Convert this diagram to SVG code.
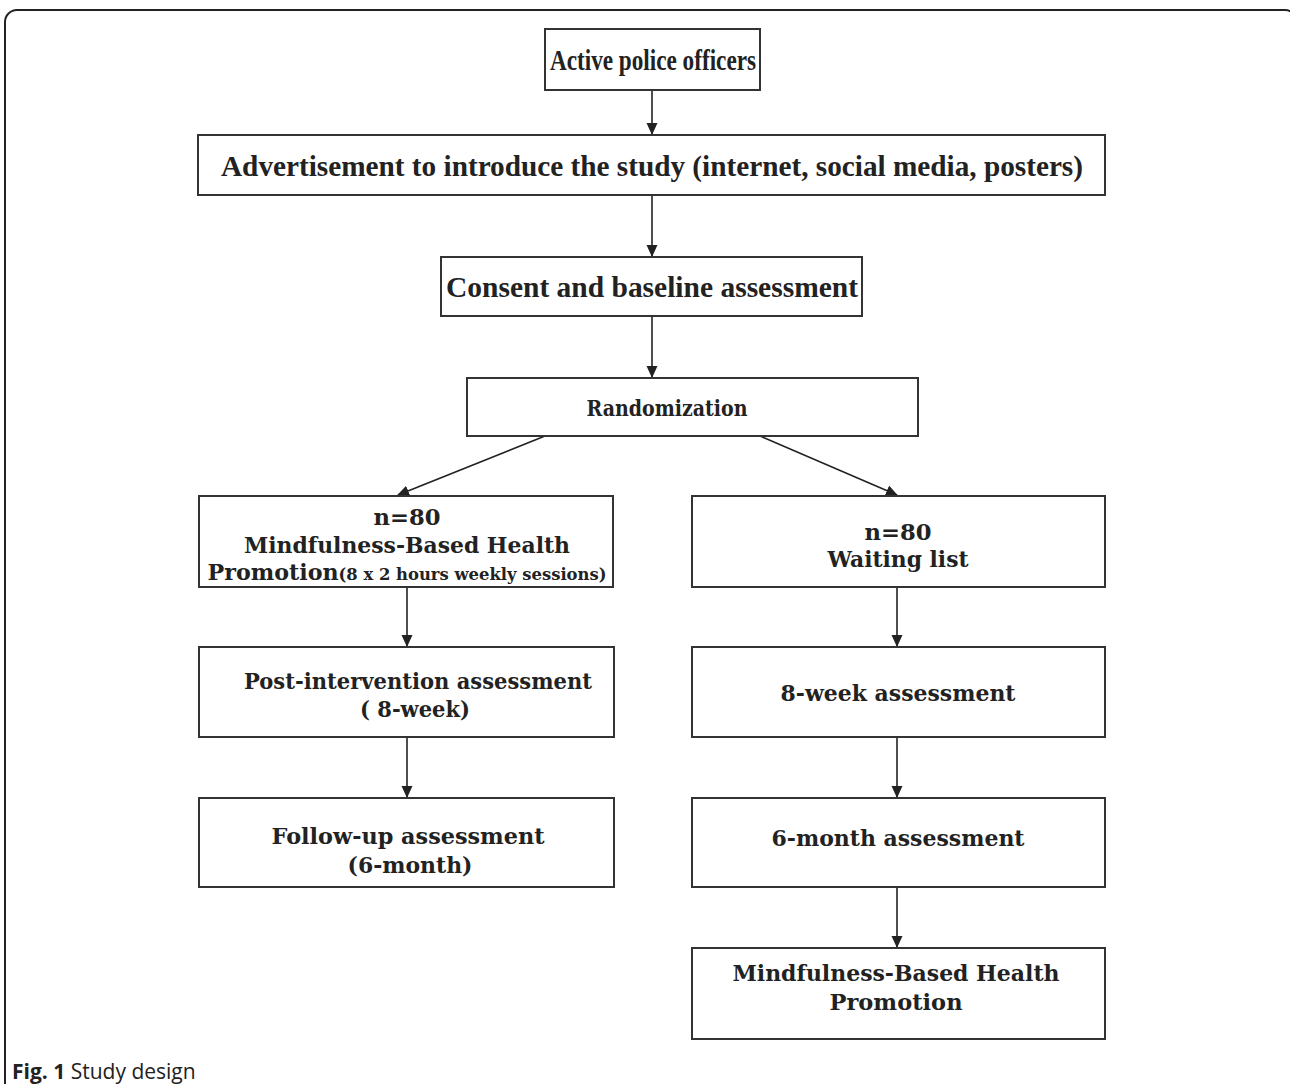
<svg xmlns="http://www.w3.org/2000/svg" width="1290" height="1084" viewBox="0 0 1290 1084">
<defs>
<marker id="ah" markerWidth="12" markerHeight="12" refX="11" refY="6" orient="auto" markerUnits="userSpaceOnUse">
<path d="M0,0.5 L12,6 L0,11.5 Z" fill="#222"/>
</marker>
<style>
.box{fill:#fff;stroke:#333;stroke-width:2}
.t{font-weight:bold;fill:#222;text-anchor:middle}
.c{font-family:"Liberation Serif","DejaVu Serif",serif;font-size:29px}
.g{font-family:"DejaVu Serif","Liberation Serif",serif;font-size:23px}
.e{stroke:#222;stroke-width:1.6;fill:none;marker-end:url(#ah)}
.cap{font-family:"Open Sans","Liberation Sans",sans-serif;font-size:21px;fill:#222}
</style>
</defs>
<rect width="1290" height="1084" fill="#fff"/>
<rect x="5" y="10" width="1292" height="1110" rx="12" fill="none" stroke="#222" stroke-width="2"/>
<g id="connectors">
<line class="e" x1="652" y1="90" x2="652" y2="134"/>
<line class="e" x1="652" y1="195" x2="652" y2="256"/>
<line class="e" x1="652" y1="316" x2="652" y2="377"/>
<line class="e" x1="545" y1="436" x2="398" y2="495"/>
<line class="e" x1="760" y1="436" x2="897" y2="495"/>
<line class="e" x1="407" y1="587" x2="407" y2="646"/>
<line class="e" x1="897" y1="587" x2="897" y2="646"/>
<line class="e" x1="407" y1="737" x2="407" y2="797"/>
<line class="e" x1="897" y1="737" x2="897" y2="797"/>
<line class="e" x1="897" y1="887" x2="897" y2="947"/>
</g>
<g id="n1"><rect class="box" x="545" y="29" width="215" height="61"/>
<text class="t c" x="653" y="70" textLength="206" lengthAdjust="spacingAndGlyphs">Active police officers</text></g>
<g id="n2"><rect class="box" x="198" y="135" width="907" height="60"/>
<text class="t c" x="652" y="176" textLength="862" lengthAdjust="spacingAndGlyphs">Advertisement to introduce the study (internet, social media, posters)</text></g>
<g id="n3"><rect class="box" x="441" y="257" width="421" height="59"/>
<text class="t c" x="652" y="297" textLength="412" lengthAdjust="spacingAndGlyphs">Consent and baseline assessment</text></g>
<g id="n4"><rect class="box" x="467" y="378" width="451" height="58"/>
<text class="t g" x="667" y="416" textLength="161" lengthAdjust="spacingAndGlyphs">Randomization</text></g>
<g id="n5"><rect class="box" x="199" y="496" width="414" height="91"/>
<text class="t g" x="407" y="525" textLength="67" lengthAdjust="spacingAndGlyphs">n=80</text>
<text class="t g" x="407" y="553" textLength="326" lengthAdjust="spacingAndGlyphs">Mindfulness-Based Health</text>
<text class="t g" x="407" y="580" textLength="399" lengthAdjust="spacingAndGlyphs">Promotion<tspan style="font-size:17px">(8 x 2 hours weekly sessions)</tspan></text></g>
<g id="n6"><rect class="box" x="692" y="496" width="413" height="91"/>
<text class="t g" x="898" y="540" textLength="67" lengthAdjust="spacingAndGlyphs">n=80</text>
<text class="t g" x="898" y="567" textLength="141" lengthAdjust="spacingAndGlyphs">Waiting list</text></g>
<g id="n7"><rect class="box" x="199" y="647" width="415" height="90"/>
<text class="t g" x="418" y="689" textLength="348" lengthAdjust="spacingAndGlyphs">Post-intervention assessment</text>
<text class="t g" x="415" y="717" textLength="110" lengthAdjust="spacingAndGlyphs">( 8-week)</text></g>
<g id="n8"><rect class="box" x="692" y="647" width="413" height="90"/>
<text class="t g" x="898" y="701" textLength="235" lengthAdjust="spacingAndGlyphs">8-week assessment</text></g>
<g id="n9"><rect class="box" x="199" y="798" width="415" height="89"/>
<text class="t g" x="408" y="844" textLength="273" lengthAdjust="spacingAndGlyphs">Follow-up assessment</text>
<text class="t g" x="410" y="873" textLength="125" lengthAdjust="spacingAndGlyphs">(6-month)</text></g>
<g id="n10"><rect class="box" x="692" y="798" width="413" height="89"/>
<text class="t g" x="898" y="846" textLength="253" lengthAdjust="spacingAndGlyphs">6-month assessment</text></g>
<g id="n11"><rect class="box" x="692" y="948" width="413" height="91"/>
<text class="t g" x="896" y="981" textLength="327" lengthAdjust="spacingAndGlyphs">Mindfulness-Based Health</text>
<text class="t g" x="896" y="1010" textLength="133" lengthAdjust="spacingAndGlyphs">Promotion</text></g>
<text class="cap" x="12" y="1079"><tspan font-weight="bold">Fig. 1</tspan> Study design</text>
</svg>
